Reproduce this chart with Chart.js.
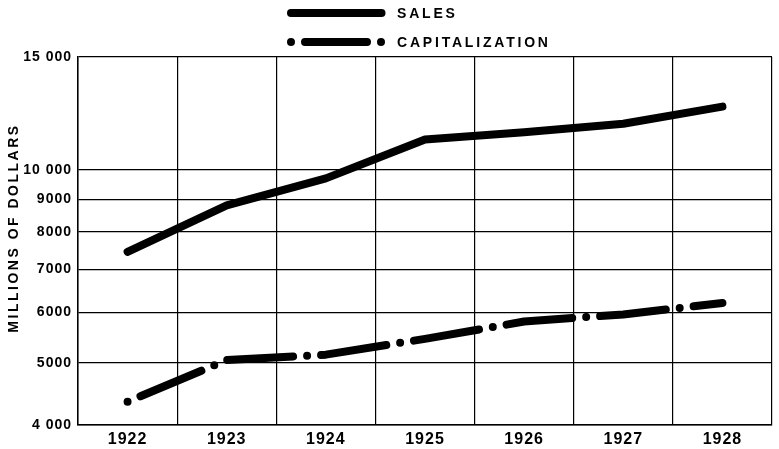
<!DOCTYPE html>
<html lang="en">
<head>
    <meta charset="UTF-8">
    <title>Sales and Capitalization, 1922-1928</title>
    <script src="https://cdn.jsdelivr.net/npm/chart.js"></script>
    <style>
        * { margin: 0; padding: 0; box-sizing: border-box; }
        body { background: #fff; }
        canvas { display: block; }
    </style>
</head>
<body>
    <canvas id="chart" width="779" height="449"></canvas>

    <script>
        // Data (millions of dollars)
        const years = ['1922', '1923', '1924', '1925', '1926', '1927', '1928'];
        const sales = [7450, 8800, 9700, 11150, 11450, 11800, 12550];
        const capitalization = [4350, 5050, 5150, 5450, 5800, 5950, 6200];
        const yTicks = [4000, 5000, 6000, 7000, 8000, 9000, 10000, 15000];
        const yTickLabels = ['4 000', '5000', '6000', '7000', '8000', '9000', '10 000', '15 000'];

        const FONT = "'Liberation Sans', Arial, sans-serif";
        const dotDash = [0, 14, 66, 14];

        // Legend and rotated axis title, drawn with letter spacing
        const labelsPlugin = {
            id: 'labels',
            beforeDraw(chart) {
                // a little spacing for the tick labels as well
                chart.ctx.letterSpacing = '1px';
            },
            afterDraw(chart) {
                const ctx = chart.ctx;
                ctx.save();
                ctx.fillStyle = '#000';
                ctx.strokeStyle = '#000';
                ctx.font = 'bold 14px ' + FONT;
                ctx.textBaseline = 'middle';

                // legend
                const items = [
                    { text: 'SALES', y: 13, dash: [] },
                    { text: 'CAPITALIZATION', y: 42, dash: [0, 14, 62, 14] }
                ];
                items.forEach(item => {
                    ctx.lineWidth = 8;
                    ctx.lineCap = 'round';
                    ctx.setLineDash(item.dash);
                    ctx.beginPath();
                    ctx.moveTo(291, item.y);
                    ctx.lineTo(381.5, item.y);
                    ctx.stroke();
                    ctx.setLineDash([]);
                    ctx.letterSpacing = '2.8px';
                    ctx.textAlign = 'left';
                    ctx.fillText(item.text, 397, item.y + 1);
                });

                // y axis title
                ctx.letterSpacing = '2.5px';
                ctx.translate(14, 228);
                ctx.rotate(-Math.PI / 2);
                ctx.textAlign = 'center';
                ctx.fillText('MILLIONS OF DOLLARS', 0, 0);
                ctx.restore();
                ctx.letterSpacing = '0px';
            }
        };

        new Chart(document.getElementById('chart'), {
            type: 'line',
            data: {
                labels: years,
                datasets: [
                    {
                        label: 'SALES',
                        data: sales,
                        borderColor: '#000',
                        borderWidth: 8,
                        borderCapStyle: 'round',
                        borderJoinStyle: 'round',
                        pointRadius: 0,
                        tension: 0
                    },
                    {
                        label: 'CAPITALIZATION',
                        data: capitalization,
                        borderColor: '#000',
                        borderWidth: 8,
                        borderDash: dotDash,
                        borderCapStyle: 'round',
                        borderJoinStyle: 'round',
                        pointRadius: 0,
                        tension: 0
                    }
                ]
            },
            options: {
                responsive: false,
                devicePixelRatio: 1,
                animation: false,
                layout: { padding: { top: 57, right: 7, left: 0, bottom: 0 } },
                plugins: {
                    legend: { display: false },
                    tooltip: { enabled: false }
                },
                scales: {
                    x: {
                        offset: true,
                        grid: { offset: true, color: '#000', lineWidth: 1.2, drawTicks: false },
                        border: { color: '#000', width: 1.5 },
                        ticks: {
                            color: '#000',
                            padding: 5,
                            maxRotation: 0,
                            font: { family: FONT, size: 16, weight: 'bold' }
                        },
                        afterFit(scale) { scale.height = 24; }
                    },
                    y: {
                        type: 'logarithmic',
                        min: 4000,
                        max: 15000,
                        afterBuildTicks(scale) {
                            scale.ticks = yTicks.map(v => ({ value: v }));
                        },
                        grid: { color: '#000', lineWidth: 1.2, drawTicks: false },
                        border: { color: '#000', width: 1.5 },
                        ticks: {
                            color: '#000',
                            padding: 6,
                            autoSkip: false,
                            font: { family: FONT, size: 14, weight: 'bold' },
                            callback: (value) => {
                                const i = yTicks.indexOf(value);
                                return i >= 0 ? yTickLabels[i] : '';
                            }
                        },
                        afterFit(scale) { scale.width = 78; }
                    }
                }
            },
            plugins: [labelsPlugin]
        });
    </script>
</body>
</html>
